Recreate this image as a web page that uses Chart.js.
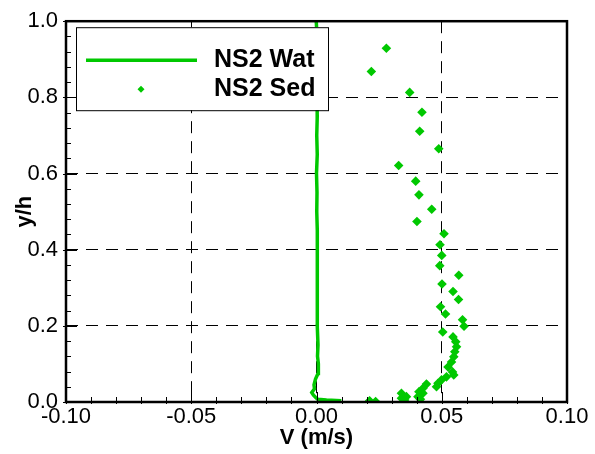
<!DOCTYPE html>
<html>
<head>
<meta charset="utf-8">
<script src="https://cdn.jsdelivr.net/npm/chart.js@4/dist/chart.umd.min.js"></script>
<style>
  html, body { margin: 0; padding: 0; background: #fff; }
  canvas { display: block; }
</style>
</head>
<body>
<canvas id="profile" width="595" height="454"></canvas>
<script>
// Water velocity profile (line)
const watV = [0.0099, 0.0040, 0.0005, -0.0003, -0.0012, -0.0019, -0.0008, -0.0010, -0.0004, 0.0006, 0.0008, 0.0007, 0.0004, 0.0006, 0.0003, 0.0005, 0.0002, 0.0004, 0.0002, 0.0003, 0.0001, 0.0002, 0.0000, 0.0003, 0.0001, 0.0003, 0.0002, 0.0004, 0.0002, 0.0003, -0.0001];
const watY = [0.003, 0.005, 0.007, 0.012, 0.018, 0.025, 0.035, 0.045, 0.060, 0.075, 0.085, 0.100, 0.120, 0.150, 0.200, 0.250, 0.300, 0.350, 0.400, 0.450, 0.500, 0.550, 0.600, 0.650, 0.700, 0.750, 0.800, 0.850, 0.900, 0.950, 1.000];

// Sediment velocity samples (diamonds)
const sedV = [0.0279, 0.0219, 0.0372, 0.0421, 0.0412, 0.0488, 0.0328, 0.0396, 0.0409, 0.0460,
              0.0401, 0.0509, 0.0493, 0.0500, 0.0492, 0.0568, 0.0501, 0.0545, 0.0567, 0.0495,
              0.0515, 0.0583, 0.0589, 0.0504, 0.0545, 0.0556, 0.0559, 0.0552, 0.0548, 0.0539,
              0.0525, 0.0543, 0.0548, 0.0519, 0.0499, 0.0485, 0.0479, 0.0439, 0.0425, 0.0409,
              0.0425, 0.0405, 0.0415, 0.0339, 0.0359, 0.0339, 0.0352, 0.0212, 0.0236];
const sedY = [0.929, 0.868, 0.813, 0.761, 0.711, 0.665, 0.621, 0.580, 0.544, 0.506,
              0.474, 0.442, 0.413, 0.385, 0.358, 0.333, 0.310, 0.290, 0.269, 0.250,
              0.231, 0.216, 0.199, 0.184, 0.171, 0.158, 0.145, 0.132, 0.119, 0.105,
              0.092, 0.079, 0.071, 0.066, 0.058, 0.049, 0.040, 0.047, 0.036, 0.027,
              0.023, 0.014, 0.007, 0.023, 0.014, 0.010, 0.005, 0.003, 0.001];

const seriesNames = ['NS2 Wat', 'NS2 Sed'];
const xTicks = [-0.10, -0.05, 0.00, 0.05, 0.10];
const yTicks = [0.0, 0.2, 0.4, 0.6, 0.8, 1.0];

const GREEN = '#00c800';
const FONT = "'Liberation Sans', Arial, sans-serif";

// inside tick marks on bottom/left, plus the closed frame
const frameTicks = {
  id: 'frameTicks',
  afterDraw(chart) {
    const { ctx, chartArea: a, scales: { x, y } } = chart;
    ctx.save();
    ctx.strokeStyle = '#000';
    ctx.lineWidth = 1;
    ctx.beginPath();
    for (let i = 0; i <= 20; i++) {
      const v = xTicks[0] + i * 0.01;
      const px = Math.round(x.getPixelForValue(v)) + 0.5;
      const len = i % 5 === 0 ? 10 : 5;
      ctx.moveTo(px, a.bottom + 2);
      ctx.lineTo(px, a.bottom - len);
    }
    for (let i = 0; i <= 25; i++) {
      const v = i * 0.04;
      const py = Math.round(y.getPixelForValue(v)) + 0.5;
      const len = i % 5 === 0 ? 11 : 5;
      ctx.moveTo(a.left - (i % 5 === 0 ? 3 : 0), py);
      ctx.lineTo(a.left + len, py);
    }
    ctx.stroke();
    ctx.lineWidth = 2.5;
    ctx.strokeRect(a.left, a.top, a.right - a.left, a.bottom - a.top);
    ctx.restore();
  }
};

// boxed legend in the upper-left corner of the plot
const boxLegend = {
  id: 'boxLegend',
  afterDatasetsDraw(chart) {
    const { ctx, chartArea: a } = chart;
    const bx = a.left + 10, by = a.top + 6, bw = 252, bh = 83;
    ctx.save();
    ctx.fillStyle = '#fff';
    ctx.fillRect(bx, by, bw, bh);
    ctx.strokeStyle = '#000';
    ctx.lineWidth = 1;
    ctx.strokeRect(bx + 0.5, by + 0.5, bw, bh);

    ctx.strokeStyle = GREEN;
    ctx.lineWidth = 3.5;
    ctx.beginPath();
    ctx.moveTo(bx + 10, by + 33);
    ctx.lineTo(bx + 121, by + 33);
    ctx.stroke();

    ctx.fillStyle = GREEN;
    const dx = bx + 65, dy = by + 62, r = 3.5;
    ctx.beginPath();
    ctx.moveTo(dx, dy - r);
    ctx.lineTo(dx + r, dy);
    ctx.lineTo(dx, dy + r);
    ctx.lineTo(dx - r, dy);
    ctx.closePath();
    ctx.fill();

    ctx.fillStyle = '#000';
    ctx.font = 'bold 25px ' + FONT;
    ctx.textAlign = 'left';
    ctx.textBaseline = 'middle';
    ctx.fillText(seriesNames[0], bx + 138, by + 33);
    ctx.fillText(seriesNames[1], bx + 138, by + 62);
    ctx.restore();
  }
};

// no dashed line on the frame edges
const gridColor = (ctx) =>
  (ctx.index === 0 || ctx.index === ctx.scale.ticks.length - 1) ? 'rgba(0,0,0,0)' : '#000';

new Chart(document.getElementById('profile'), {
  type: 'scatter',
  data: {
    datasets: [
      {
        label: seriesNames[0],
        data: watV.map((v, i) => ({ x: v, y: watY[i] })),
        showLine: true,
        borderColor: GREEN,
        borderWidth: 3.5,
        pointRadius: 0,
        tension: 0
      },
      {
        label: seriesNames[1],
        data: sedV.map((v, i) => ({ x: v, y: sedY[i] })),
        showLine: false,
        pointStyle: 'rectRot',
        pointRadius: 4.8,
        backgroundColor: GREEN,
        borderColor: GREEN,
        borderWidth: 0
      }
    ]
  },
  options: {
    responsive: false,
    animation: false,
    layout: { padding: { top: 20, right: 28, left: 0, bottom: 0 } },
    plugins: { legend: { display: false }, tooltip: { enabled: false } },
    scales: {
      x: {
        type: 'linear',
        min: xTicks[0],
        max: xTicks[xTicks.length - 1],
        afterFit: (s) => { s.height = 52; },
        afterBuildTicks: (s) => { s.ticks = xTicks.map(v => ({ value: v })); },
        ticks: {
          color: '#000',
          padding: 2,
          font: { family: FONT, size: 22 },
          callback: (v) => Number(v).toFixed(2)
        },
        grid: { color: gridColor, lineWidth: 1, drawTicks: false },
        border: { display: false, dash: [12, 8] },
        title: {
          display: true,
          text: 'V (m/s)',
          color: '#000',
          font: { family: FONT, size: 22, weight: 'bold' },
          padding: { top: 0, bottom: 3 }
        }
      },
      y: {
        type: 'linear',
        min: yTicks[0],
        max: yTicks[yTicks.length - 1],
        afterFit: (s) => { s.width = 66; },
        afterBuildTicks: (s) => { s.ticks = yTicks.map(v => ({ value: v })); },
        ticks: {
          color: '#000',
          padding: 8,
          font: { family: FONT, size: 22 },
          callback: (v) => Number(v).toFixed(1)
        },
        grid: { color: gridColor, lineWidth: 1, drawTicks: false },
        border: { display: false, dash: [12, 8] },
        title: {
          display: true,
          text: 'y/h',
          color: '#000',
          font: { family: FONT, size: 22, weight: 'bold' },
          padding: { top: 12, bottom: 0 }
        }
      }
    }
  },
  plugins: [boxLegend, frameTicks]
});
</script>
</body>
</html>
